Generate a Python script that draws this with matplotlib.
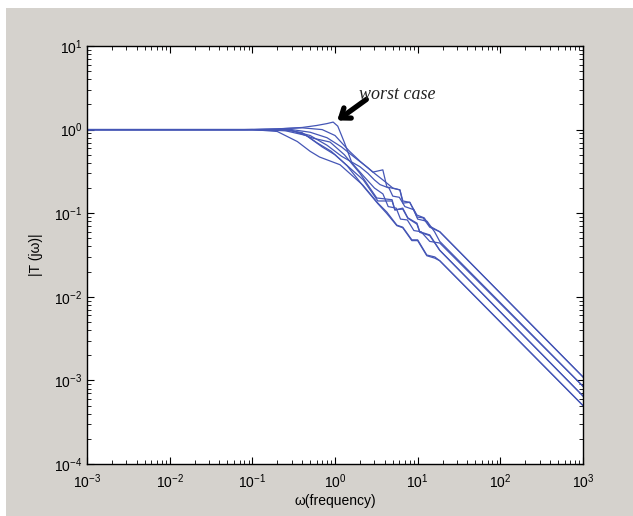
import matplotlib
matplotlib.use('Agg')
import matplotlib.pyplot as plt
from matplotlib.patches import Rectangle
from matplotlib.ticker import LogLocator, NullFormatter

plt.rcParams['font.family'] = ['Liberation Sans', 'DejaVu Sans']
plt.rcParams['mathtext.fontset'] = 'custom'
plt.rcParams['mathtext.rm'] = 'Liberation Sans'
plt.rcParams['mathtext.it'] = 'Liberation Sans:italic'

# frequency response curves (omega, |T(jw)|)
w1 = [1e-3, 0.08, 0.2, 0.4, 0.6, 0.8, 0.95, 1.08, 1.3, 1.6, 2.2, 3.0, 3.8, 4.4, 5.5, 6.2, 7.5, 9, 11, 14, 18.5, 1000]
t1 = [1, 1, 1.02, 1.06, 1.12, 1.18, 1.23, 1.1, 0.7, 0.4, 0.28, 0.2, 0.17, 0.12, 0.115, 0.085, 0.083, 0.062, 0.06, 0.046, 0.044, 8.5e-4]

w2 = [1e-3, 0.1, 0.2, 0.4, 0.7, 1.0, 1.5, 2.0, 2.87, 3.79, 4.24, 6.1, 6.62, 8.05, 9.8, 11.6, 14, 18.5, 1000]
t2 = [1, 1, 1.02, 1.05, 1.0, 0.85, 0.55, 0.42, 0.31, 0.33, 0.206, 0.19, 0.132, 0.135, 0.09, 0.088, 0.068, 0.06, 1.1e-3]

w3 = [1e-3, 0.1, 0.3, 0.54, 0.87, 1.3, 2.0, 3.2, 4.9, 5.3, 6.6, 7.6, 9.8, 10.6, 14, 18.5, 1000]
t3 = [1, 1, 0.98, 0.79, 0.71, 0.5, 0.30, 0.152, 0.145, 0.109, 0.115, 0.088, 0.076, 0.06, 0.055, 0.036, 6.5e-4]

w4 = [1e-3, 0.1, 0.2, 0.35, 0.5, 0.65, 1.15, 2.17, 3.3, 4.24, 5.6, 6.6, 8.5, 10, 12.9, 16.1, 18.5, 1000]
t4 = [1, 1, 0.95, 0.72, 0.55, 0.47, 0.38, 0.217, 0.132, 0.103, 0.072, 0.068, 0.048, 0.048, 0.0316, 0.030, 0.027, 5e-4]

w5 = [1e-3, 0.1, 0.3, 0.5, 0.8, 1.2, 2.0, 2.5, 3.0, 3.5, 4.5, 5.0, 6.0, 7.0, 9.0, 10, 13, 16, 18.5, 1000]
t5 = [1, 1, 0.97, 0.85, 0.65, 0.48, 0.36, 0.3, 0.25, 0.22, 0.2, 0.16, 0.155, 0.12, 0.11, 0.085, 0.08, 0.06, 0.046, 8.5e-4]

w6 = [1e-3, 0.1, 0.3, 0.5, 0.8, 1.2, 1.8, 2.5, 3.0, 4.0, 5.0, 6.1, 6.62, 8.0, 9.8, 12, 14, 18.5, 1000]
t6 = [1, 1, 1.0, 0.93, 0.8, 0.62, 0.45, 0.35, 0.3, 0.24, 0.2, 0.19, 0.14, 0.135, 0.095, 0.088, 0.07, 0.06, 1.1e-3]

w7 = [1e-3, 0.1, 0.25, 0.45, 0.7, 1.0, 1.5, 2.2, 3.3, 4.9, 5.3, 6.6, 7.6, 9.8, 10.6, 14, 18.5, 1000]
t7 = [1, 1, 0.97, 0.85, 0.62, 0.5, 0.35, 0.25, 0.14, 0.14, 0.11, 0.112, 0.087, 0.074, 0.059, 0.054, 0.036, 6.5e-4]

w8 = [1e-3, 0.1, 0.25, 0.4, 0.6, 0.9, 1.4, 2.2, 3.3, 4.2, 5.6, 6.6, 8.5, 10, 12.9, 16.1, 18.5, 1000]
t8 = [1, 1, 0.99, 0.92, 0.7, 0.55, 0.37, 0.21, 0.13, 0.1, 0.071, 0.067, 0.047, 0.047, 0.031, 0.029, 0.027, 5e-4]

curves = [(w1, t1), (w2, t2), (w3, t3), (w4, t4), (w5, t5), (w6, t6), (w7, t7), (w8, t8)]

line_color = '#4556b6'
bg_gray = '#d5d2cd'

fig = plt.figure(figsize=(6.33, 5.16), dpi=100, facecolor='white')
fig.patches.append(Rectangle((6 / 633, 0), 1, (516 - 8) / 516, transform=fig.transFigure,
                             facecolor=bg_gray, edgecolor='none', zorder=-10))
ax = fig.add_axes([87 / 633, 52 / 516, 496 / 633, 418 / 516])
ax.set_facecolor('white')

for w, t in curves:
    ax.plot(w, t, color=line_color, linewidth=0.9)

ax.set_xscale('log')
ax.set_yscale('log')
ax.set_xlim(1e-3, 1e3)
ax.set_ylim(1e-4, 1e1)

ax.xaxis.set_major_locator(LogLocator(base=10, numticks=10))
ax.yaxis.set_major_locator(LogLocator(base=10, numticks=10))
ax.xaxis.set_minor_locator(LogLocator(base=10, subs=range(2, 10), numticks=20))
ax.yaxis.set_minor_locator(LogLocator(base=10, subs=range(2, 10), numticks=20))
ax.xaxis.set_minor_formatter(NullFormatter())
ax.yaxis.set_minor_formatter(NullFormatter())

ax.tick_params(which='both', direction='in', top=True, right=True, colors='black', labelsize=10)
ax.tick_params(which='major', length=5, width=0.8)
ax.tick_params(which='minor', length=3, width=0.6)
ax.tick_params(axis='x', pad=6)
for s in ax.spines.values():
    s.set_linewidth(1.0)

ax.set_xlabel('ω(frequency)', fontsize=10, labelpad=2)
ax.set_ylabel('|T (jω)|', fontsize=10, labelpad=8)

ax.annotate('', xy=(1.0, 1.23), xytext=(2.55, 2.4),
            arrowprops=dict(arrowstyle='->, head_length=0.6, head_width=0.45', lw=3.8, color='black'))
ax.text(1.95, 2.6, 'worst case', fontsize=13, style='italic', family='Liberation Serif',
        ha='left', va='center', color='#222222')

fig.savefig('out.png', dpi=100, facecolor=fig.get_facecolor())
